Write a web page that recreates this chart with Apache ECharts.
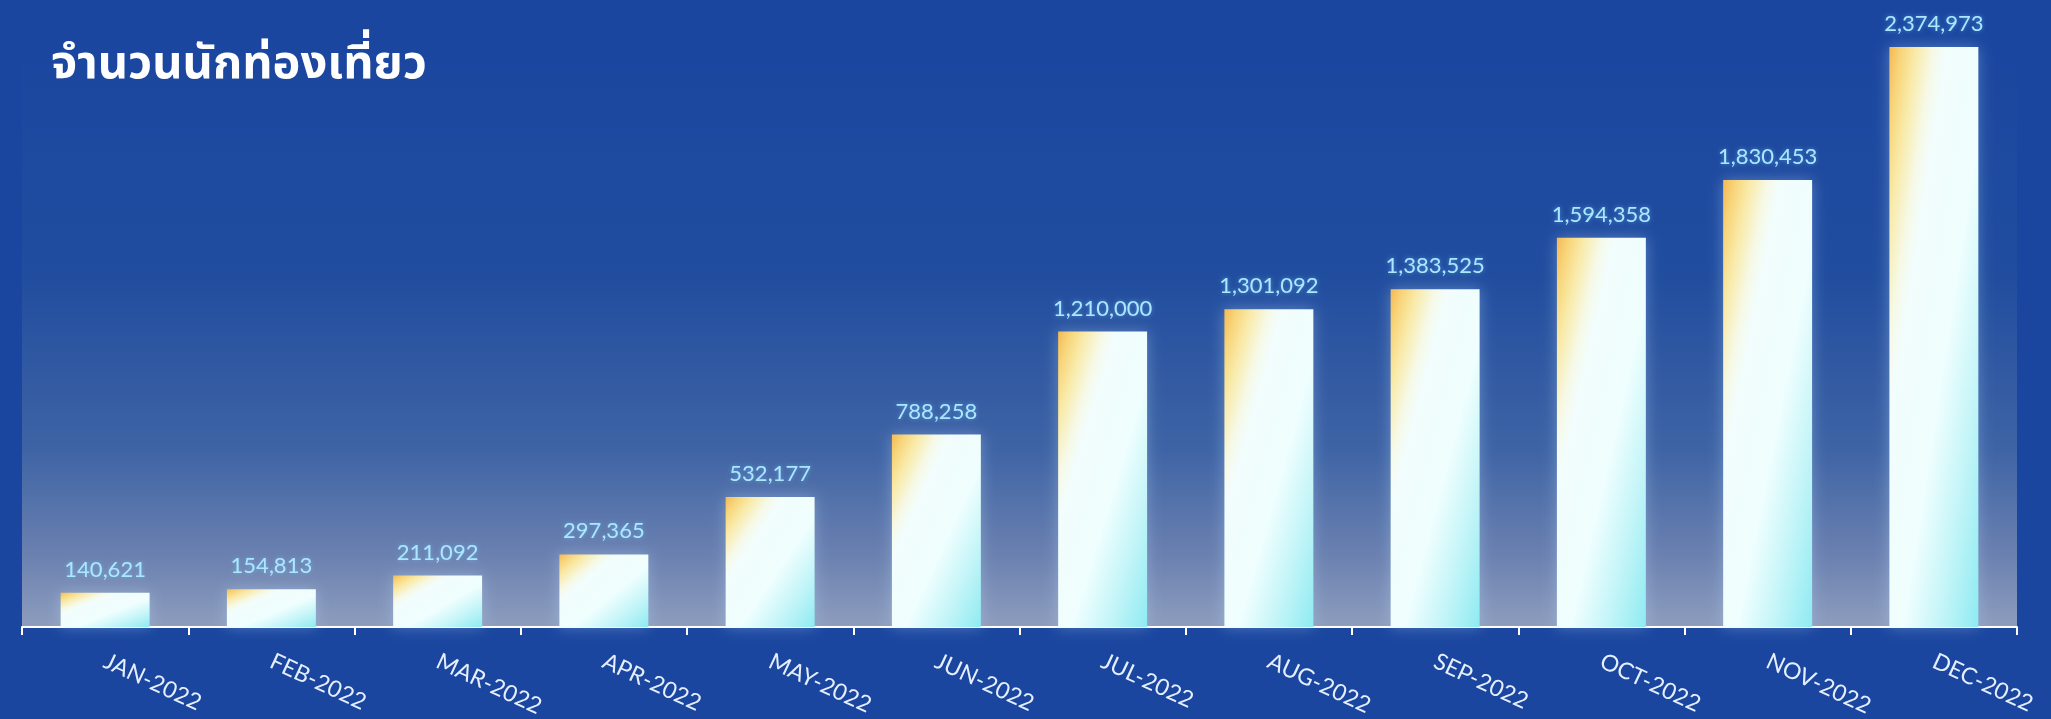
<!DOCTYPE html>
<html>
<head>
<meta charset="utf-8">
<title>จำนวนนักท่องเที่ยว</title>
<script src="https://cdn.jsdelivr.net/npm/echarts@6/dist/echarts.min.js"></script>
<style>
  html, body { margin: 0; padding: 0; background: #1a469f; }
  #chart { width: 2051px; height: 719px; }
</style>
</head>
<body>
<div id="chart"></div>
<script>
// Monthly visitor counts, 2022
const chartTitle = 'จำนวนนักท่องเที่ยว';
const categories = ['JAN-2022', 'FEB-2022', 'MAR-2022', 'APR-2022', 'MAY-2022', 'JUN-2022',
                    'JUL-2022', 'AUG-2022', 'SEP-2022', 'OCT-2022', 'NOV-2022', 'DEC-2022'];
const visitors = [140621, 154813, 211092, 297365, 532177, 788258,
                  1210000, 1301092, 1383525, 1594358, 1830453, 2374973];

const chart = echarts.init(document.getElementById('chart'), null, { renderer: 'canvas' });

// Bar fill: warm corner at top-left, white body, cyan at bottom-right,
// laid along the bar's own diagonal so every bar gets the same look.
const barStops = [
  { offset: 0.00, color: '#f4b955' },
  { offset: 0.07, color: '#f8d57a' },
  { offset: 0.15, color: '#f9eaa8' },
  { offset: 0.25, color: '#f6f9e6' },
  { offset: 0.32, color: '#f2fdfc' },
  { offset: 0.58, color: '#effefe' },
  { offset: 0.78, color: '#c4f5f8' },
  { offset: 1.00, color: '#8eebf2' }
];

function renderBar(params, api) {
  const idx = api.value(0);
  const val = api.value(1);
  const top = api.coord([idx, val]);
  const base = api.coord([idx, 0]);
  const band = api.size([1, 0])[0];
  const w = band * 0.535;
  const x0 = top[0] - w / 2;
  const y0 = top[1];
  const h = Math.max(base[1] - top[1], 1);
  const k = 2 / (1 / (w * w) + 1 / (h * h));
  const fill = new echarts.graphic.LinearGradient(
    x0, y0, x0 + k / w, y0 + k / h, barStops, true);
  return {
    type: 'group',
    children: [
      {
        type: 'rect',
        shape: { x: x0, y: y0, width: w, height: h },
        style: {
          fill: fill,
          shadowBlur: 14,
          shadowColor: 'rgba(190,225,255,0.35)'
        }
      },
      {
        type: 'text',
        x: top[0],
        y: y0 - 12,
        style: {
          text: Math.round(val).toLocaleString('en-US'),
          fill: '#aae8ff',
          font: '22px Lato, "Open Sans", sans-serif',
          align: 'center',
          verticalAlign: 'bottom',
          textShadowColor: 'rgba(120,200,255,0.55)',
          textShadowBlur: 4
        }
      }
    ]
  };
}

chart.setOption({
  backgroundColor: '#1a469f',
  animation: false,
  title: {
    text: chartTitle,
    left: 46,
    top: 40,
    textStyle: {
      color: '#ffffff',
      fontSize: 47,
      fontWeight: 'bold',
      fontFamily: '"Noto Sans Thai", "Noto Sans", sans-serif'
    }
  },
  grid: {
    left: 22,
    right: 34,
    top: 41,
    bottom: 92,
    containLabel: false,
    outerBoundsMode: 'none',
    show: true,
    borderWidth: 0,
    backgroundColor: new echarts.graphic.LinearGradient(0, 0, 0, 1, [
      { offset: 0.00, color: '#1a469f' },
      { offset: 0.40, color: '#214d9f' },
      { offset: 0.70, color: '#3f64a5' },
      { offset: 0.88, color: '#6b81b0' },
      { offset: 1.00, color: '#8e9dbe' }
    ])
  },
  xAxis: {
    type: 'category',
    data: categories,
    axisLine: { lineStyle: { color: '#ffffff', width: 2 } },
    axisTick: { show: true, length: 8, lineStyle: { color: '#ffffff', width: 2 } },
    axisLabel: {
      color: '#e6efff',
      fontSize: 23,
      fontFamily: 'Lato, "Open Sans", sans-serif',
      rotate: -25,
      margin: 33,
      interval: 0
    },
    splitLine: { show: false }
  },
  yAxis: {
    type: 'value',
    min: 0,
    max: 2400000,
    show: false,
    splitLine: { show: false }
  },
  series: [{
    type: 'custom',
    renderItem: renderBar,
    encode: { x: 0, y: 1 },
    data: visitors.map((v, i) => [i, v])
  }]
});
</script>
</body>
</html>
